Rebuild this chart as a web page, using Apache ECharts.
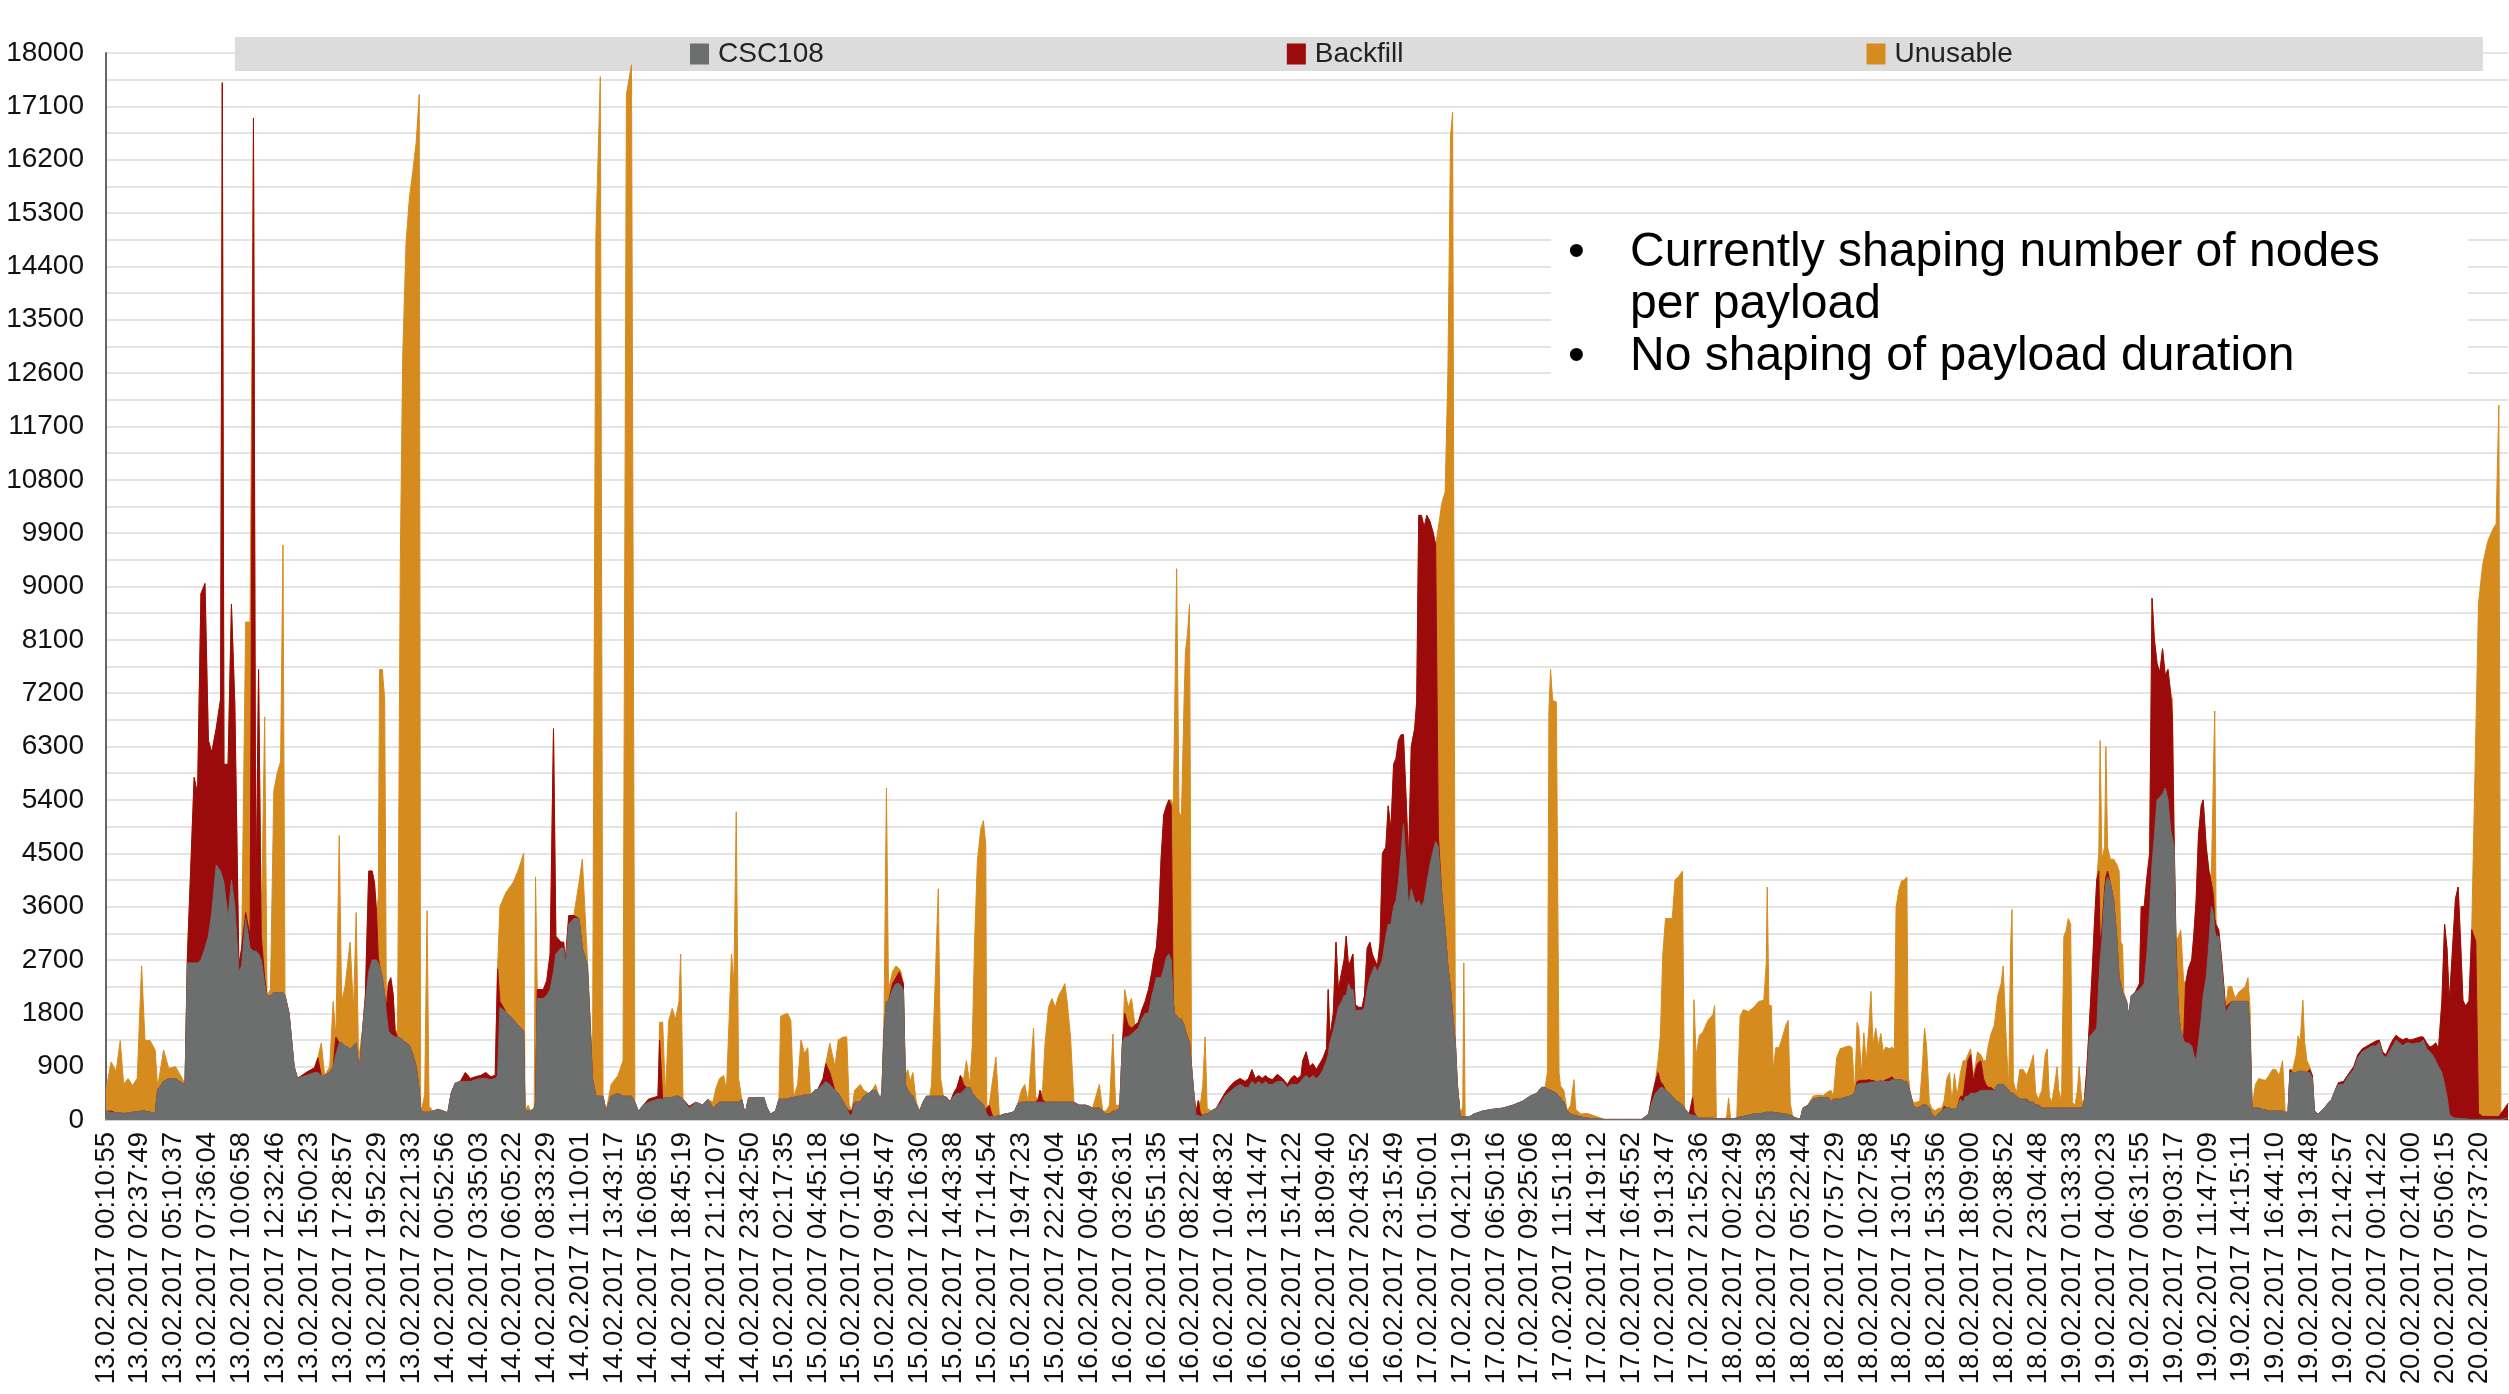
<!DOCTYPE html>
<html>
<head>
<meta charset="utf-8">
<script src="https://cdn.jsdelivr.net/npm/echarts@6/dist/echarts.min.js"></script>
<style>
html,body{margin:0;padding:0;background:#fff;}
#chart{width:2509px;height:1394px;}
</style>
</head>
<body>
<div id="chart"></div>
<script>
// X-axis tick labels (one per label slot)
const tickLabels = [
"13.02.2017 00:10:55","13.02.2017 02:37:49","13.02.2017 05:10:37","13.02.2017 07:36:04","13.02.2017 10:06:58",
"13.02.2017 12:32:46","13.02.2017 15:00:23","13.02.2017 17:28:57","13.02.2017 19:52:29","13.02.2017 22:21:33",
"14.02.2017 00:52:56","14.02.2017 03:35:03","14.02.2017 06:05:22","14.02.2017 08:33:29","14.02.2017 11:10:01",
"14.02.2017 13:43:17","14.02.2017 16:08:55","14.02.2017 18:45:19","14.02.2017 21:12:07","14.02.2017 23:42:50",
"15.02.2017 02:17:35","15.02.2017 04:45:18","15.02.2017 07:10:16","15.02.2017 09:45:47","15.02.2017 12:16:30",
"15.02.2017 14:43:38","15.02.2017 17:14:54","15.02.2017 19:47:23","15.02.2017 22:24:04","16.02.2017 00:49:55",
"16.02.2017 03:26:31","16.02.2017 05:51:35","16.02.2017 08:22:41","16.02.2017 10:48:32","16.02.2017 13:14:47",
"16.02.2017 15:41:22","16.02.2017 18:09:40","16.02.2017 20:43:52","16.02.2017 23:15:49","17.02.2017 01:50:01",
"17.02.2017 04:21:19","17.02.2017 06:50:16","17.02.2017 09:25:06","17.02.2017 11:51:18","17.02.2017 14:19:12",
"17.02.2017 16:45:52","17.02.2017 19:13:47","17.02.2017 21:52:36","18.02.2017 00:22:49","18.02.2017 02:53:38",
"18.02.2017 05:22:44","18.02.2017 07:57:29","18.02.2017 10:27:58","18.02.2017 13:01:45","18.02.2017 15:33:56",
"18.02.2017 18:09:00","18.02.2017 20:38:52","18.02.2017 23:04:48","19.02.2017 01:33:33","19.02.2017 04:00:23",
"19.02.2017 06:31:55","19.02.2017 09:03:17","19.02.2017 11:47:09","19.02.2017 14:15:11","19.02.2017 16:44:10",
"19.02.2017 19:13:48","19.02.2017 21:42:57","20.02.2017 00:14:22","20.02.2017 02:41:00","20.02.2017 05:06:15",
"20.02.2017 07:37:20"
];

// Sample positions, in units of label slots (0 = first label). 10 samples per row.
const xPos = [
0.00,0.15,0.30,0.42,0.52,0.65,0.78,0.92,1.05,1.15,
1.30,1.45,1.52,1.70,1.85,2.05,2.25,2.33,2.40,2.60,
2.70,2.80,2.92,3.02,3.12,3.25,3.38,3.43,3.48,3.60,
3.70,3.80,3.92,4.00,4.12,4.25,4.35,4.42,4.50,4.58,
4.68,4.75,4.85,4.95,5.05,5.15,5.22,5.28,5.40,5.55,
5.65,5.90,6.15,6.25,6.35,6.45,6.60,6.70,6.78,6.88,
6.95,7.05,7.20,7.30,7.38,7.45,7.50,7.58,7.65,7.75,
7.85,7.92,7.98,8.03,8.07,8.15,8.22,8.27,8.33,8.40,
8.47,8.53,8.60,8.68,8.75,8.85,8.95,9.05,9.15,9.24,
9.28,9.30,9.40,9.47,9.53,9.65,9.80,9.95,10.08,10.18,
10.30,10.45,10.60,10.75,10.90,11.05,11.20,11.35,11.48,11.55,
11.62,11.80,12.00,12.15,12.32,12.36,12.45,12.52,12.63,12.67,
12.72,12.90,13.00,13.10,13.20,13.27,13.42,13.50,13.55,13.65,
13.80,13.95,14.05,14.20,14.35,14.45,14.58,14.66,14.75,14.90,
15.10,15.25,15.35,15.50,15.60,15.70,15.85,16.00,16.28,16.33,
16.42,16.50,16.60,16.70,16.80,16.90,16.95,17.02,17.20,17.40,
17.60,17.75,17.90,18.00,18.10,18.22,18.30,18.38,18.45,18.52,
18.59,18.66,18.75,18.85,18.95,19.20,19.40,19.50,19.60,19.75,
19.85,19.90,20.10,20.20,20.28,20.40,20.50,20.60,20.70,20.78,
20.90,21.00,21.15,21.23,21.35,21.50,21.60,21.75,21.85,21.92,
22.00,22.08,22.25,22.35,22.50,22.60,22.70,22.80,22.88,22.95,
23.02,23.08,23.20,23.30,23.40,23.45,23.52,23.58,23.65,23.72,
23.80,23.90,24.00,24.10,24.20,24.30,24.35,24.45,24.55,24.62,
24.70,24.80,24.90,25.00,25.10,25.20,25.30,25.38,25.48,25.55,
25.62,25.70,25.80,25.88,25.95,25.98,26.05,26.15,26.25,26.35,
26.50,26.70,26.80,26.90,27.00,27.10,27.20,27.30,27.36,27.42,
27.50,27.55,27.62,27.70,27.80,27.90,28.00,28.10,28.20,28.28,
28.35,28.45,28.55,28.70,28.90,29.00,29.10,29.20,29.30,29.40,
29.50,29.60,29.70,29.78,29.90,29.98,30.05,30.15,30.25,30.35,
30.45,30.55,30.65,30.75,30.85,30.90,30.98,31.05,31.12,31.20,
31.28,31.35,31.42,31.48,31.52,31.58,31.65,31.72,31.80,31.84,
31.90,31.96,32.02,32.08,32.15,32.22,32.28,32.35,32.42,32.48,
32.60,32.75,32.90,33.00,33.10,33.20,33.30,33.45,33.60,33.70,
33.80,33.90,34.00,34.10,34.20,34.30,34.40,34.55,34.70,34.85,
34.95,35.05,35.15,35.25,35.30,35.40,35.50,35.60,35.70,35.80,
35.90,36.00,36.05,36.10,36.20,36.28,36.35,36.45,36.52,36.58,
36.65,36.72,36.78,36.85,36.95,37.05,37.12,37.20,37.28,37.35,
37.42,37.50,37.58,37.65,37.75,37.82,37.90,37.98,38.05,38.12,
38.20,38.27,38.35,38.42,38.50,38.60,38.66,38.72,38.80,38.88,
38.96,39.05,39.15,39.22,39.30,39.40,39.50,39.58,39.66,39.72,
39.80,39.86,39.95,40.02,40.05,40.09,40.20,40.35,40.60,40.90,
41.20,41.50,41.80,42.00,42.20,42.35,42.45,42.52,42.56,42.61,
42.67,42.78,42.86,42.90,43.00,43.10,43.20,43.30,43.35,43.50,
43.70,43.90,44.20,44.60,45.00,45.30,45.50,45.60,45.70,45.78,
45.85,45.92,46.00,46.12,46.20,46.28,46.38,46.50,46.56,46.62,
46.70,46.80,46.84,46.90,47.00,47.10,47.25,47.40,47.45,47.50,
47.70,47.80,47.86,47.92,48.10,48.20,48.30,48.45,48.60,48.75,
48.90,48.97,49.00,49.05,49.12,49.18,49.25,49.35,49.45,49.55,
49.62,49.68,49.75,49.85,49.98,50.05,50.20,50.35,50.50,50.65,
50.80,50.88,50.95,51.05,51.15,51.30,51.42,51.50,51.58,51.65,
51.70,51.78,51.85,51.92,52.00,52.06,52.12,52.20,52.28,52.35,
52.42,52.50,52.60,52.68,52.75,52.80,52.88,52.96,53.04,53.12,
53.16,53.22,53.30,53.40,53.50,53.58,53.64,53.70,53.78,53.85,
53.95,54.05,54.15,54.22,54.30,54.38,54.45,54.52,54.60,54.65,
54.70,54.78,54.85,54.92,55.00,55.08,55.15,55.20,55.30,55.38,
55.45,55.52,55.60,55.70,55.80,55.90,55.96,56.00,56.05,56.12,
56.18,56.22,56.26,56.35,56.45,56.55,56.65,56.75,56.85,56.92,
57.00,57.10,57.20,57.26,57.32,57.40,57.48,57.55,57.60,57.68,
57.75,57.82,57.88,57.95,58.00,58.08,58.15,58.20,58.28,58.35,
58.42,58.50,58.58,58.65,58.72,58.78,58.82,58.87,58.95,58.99,
59.04,59.12,59.22,59.32,59.38,59.43,59.48,59.52,59.60,59.66,
59.74,59.85,59.98,60.03,60.12,60.20,60.28,60.35,60.42,60.50,
60.58,60.66,60.74,60.82,60.90,60.95,61.00,61.06,61.13,61.20,
61.28,61.34,61.42,61.52,61.58,61.65,61.72,61.80,61.86,61.95,
62.03,62.10,62.16,62.20,62.24,62.32,62.42,62.52,62.60,62.70,
62.80,62.90,63.00,63.10,63.18,63.24,63.30,63.40,63.50,63.60,
63.70,63.80,63.90,64.00,64.10,64.20,64.28,64.36,64.42,64.50,
64.60,64.66,64.72,64.80,64.85,64.92,65.00,65.08,65.14,65.25,
65.35,65.50,65.65,65.75,65.85,66.00,66.15,66.30,66.42,66.55,
66.70,66.85,66.95,67.05,67.15,67.25,67.35,67.45,67.55,67.65,
67.75,67.85,67.95,68.05,68.15,68.25,68.35,68.45,68.55,68.62,
68.72,68.80,68.90,68.98,69.05,69.12,69.20,69.30,69.38,69.45,
69.52,69.60,69.70,69.78,69.90,69.98,70.10,70.25,70.40,70.50,
70.58,70.64,70.72,70.85
];

const csc108 = [
150,130,120,120,110,120,130,140,150,150,
130,120,500,650,700,700,620,600,2650,2650,
2650,2700,2900,3100,3500,4300,4200,4100,4000,3400,
4050,3600,2500,2600,3400,2900,2850,2850,2800,2700,
2300,2100,2100,2150,2150,2150,2150,2100,1800,900,
700,750,800,800,750,750,800,900,1100,1300,
1300,1250,1200,1250,1300,900,1000,1600,2000,2500,
2700,2700,2700,2650,2600,2400,2100,1800,1500,1450,
1420,1400,1400,1380,1350,1300,1260,1100,900,500,
200,150,130,130,130,150,180,150,120,450,
620,650,650,650,680,700,700,680,700,750,
1900,1820,1700,1600,1500,150,150,150,200,300,
2050,2050,2100,2200,2500,2800,2900,2900,2600,3300,
3400,3400,2900,2600,700,400,400,400,150,400,
450,400,400,400,300,150,250,300,350,350,
350,380,380,380,400,400,400,350,200,300,
250,350,200,250,300,300,300,300,300,300,
300,300,350,100,370,380,380,200,100,150,
350,350,350,380,380,400,400,420,420,430,
500,520,600,650,600,500,450,300,200,100,
80,300,300,400,450,500,500,400,400,1500,
2000,2000,2200,2300,2300,2300,2200,600,500,450,
400,250,150,300,400,400,400,400,400,400,
400,380,300,400,450,450,500,550,550,450,
400,350,300,250,150,100,50,60,60,70,
100,120,150,280,300,300,300,300,300,300,
300,300,300,300,300,300,300,300,300,300,
300,300,300,250,250,230,200,200,200,150,
100,100,150,150,200,1300,1400,1400,1450,1500,
1550,1700,1800,1800,2100,2200,2400,2400,2400,2550,
2750,2800,2700,2000,1800,1750,1700,1700,1600,1500,
1400,1300,900,500,80,80,60,80,100,100,
150,200,300,400,450,500,550,600,550,550,
650,600,650,600,650,600,600,650,650,550,
600,600,600,650,700,750,700,750,700,750,
850,1000,1100,1300,1500,1700,1900,2000,2100,2100,
2300,2200,2200,1850,1850,1850,1900,2200,2400,2500,
2600,2500,2600,2700,3100,3300,3300,3600,3700,4000,
4500,5000,4300,3600,3900,3700,3650,3700,3600,3700,
4000,4300,4550,4700,4600,3800,3200,2600,2200,1800,
1300,600,50,50,50,50,50,100,150,180,
200,250,320,400,450,550,550,520,500,500,
480,450,400,380,300,150,100,80,80,50,
30,20,10,10,10,10,100,300,450,500,
550,550,500,450,400,350,300,250,200,150,
100,80,80,80,30,30,30,30,30,20,
20,20,20,20,30,50,60,80,100,100,
120,130,130,130,130,130,120,120,100,100,
80,80,60,30,20,200,250,350,370,380,
380,300,350,350,350,380,400,420,450,600,
600,620,620,620,630,640,640,650,650,660,
650,650,650,680,680,680,680,680,650,650,
650,450,250,200,220,250,250,250,200,100,
50,100,150,200,200,200,180,180,200,200,
350,300,400,400,450,450,450,450,500,500,
500,500,500,500,600,600,600,580,550,500,
450,450,450,400,350,350,350,300,300,250,
250,200,200,200,200,200,200,200,200,200,
200,200,200,200,200,200,200,200,200,300,
600,1400,1450,1500,1550,2300,2700,3000,3800,4000,
4100,4000,3700,3000,2400,2300,2150,2150,2000,1750,
2100,2150,2200,2200,2300,2800,3500,4300,4800,5400,
5450,5500,5600,5400,4900,4900,4600,2800,1800,1500,
1350,1300,1300,1250,1100,1000,1300,1700,2100,2400,
3000,3600,3500,3200,3100,3100,2500,1800,1900,2000,
2000,2000,2000,2000,2000,1500,200,200,200,180,
170,150,150,150,150,150,130,130,800,800,
800,820,820,820,820,800,800,700,150,100,
150,250,350,500,600,600,750,850,1050,1150,
1200,1250,1250,1300,1100,1050,1150,1250,1350,1300,
1250,1300,1300,1280,1300,1300,1350,1200,1150,1100,
1000,900,800,600,400,100,50,30,30,20,
20,20,10,10,10,10,10,10,10,10,
10,10,20,30
];

const backfill = [
0,20,0,0,0,0,0,0,0,0,
0,0,0,0,0,0,0,0,100,3130,
2850,6180,6150,3300,2700,2300,2900,13400,2000,2600,
4650,3400,100,300,100,200,14050,600,4800,400,
100,0,0,0,0,0,0,0,0,0,
0,50,80,250,0,0,0,0,300,0,
0,0,0,0,0,0,0,0,100,1700,
1500,1300,800,100,0,0,0,100,800,950,
700,100,0,0,0,0,0,0,0,0,
0,0,0,0,0,0,0,0,0,0,
0,0,150,50,50,50,100,50,50,1800,
100,0,0,0,0,0,0,0,0,0,
150,150,250,600,4100,300,100,100,100,150,
50,0,0,0,0,0,0,0,0,0,
0,0,0,0,0,0,0,50,50,1000,
0,0,0,0,0,0,0,0,30,0,
0,0,0,0,0,0,0,0,0,0,
0,0,0,0,0,0,0,0,0,0,
0,0,0,0,0,0,0,0,0,0,
0,0,100,300,200,0,0,0,0,50,
80,0,0,0,0,0,0,0,0,0,
0,0,100,100,200,200,100,0,0,0,
0,0,0,0,0,0,0,0,0,0,
0,0,0,50,100,300,100,0,0,0,
0,0,0,0,0,100,200,0,0,0,
0,0,0,0,0,0,0,0,0,0,
50,200,50,0,0,0,0,0,0,0,
0,0,0,0,0,0,0,0,0,0,
0,0,0,0,0,0,400,200,100,100,
100,150,200,400,400,500,500,1000,2000,2600,
2550,2600,2600,0,0,0,0,0,0,0,
0,0,0,0,50,250,50,0,0,0,
0,0,50,50,80,100,100,100,100,150,
200,100,100,100,100,100,80,120,50,50,
100,150,100,100,300,400,200,200,150,200,
200,200,1100,100,300,1300,300,500,600,1000,
300,500,600,100,50,50,200,700,600,300,
100,100,400,1800,1500,2000,1600,2400,2400,2400,
2000,1500,1100,800,2400,2900,3400,6500,6600,6300,
6200,5800,5350,5000,200,0,0,0,0,0,
0,0,0,0,0,0,0,0,0,0,
0,0,0,0,0,0,0,0,0,0,
0,0,0,0,0,0,0,0,0,0,
0,0,0,0,0,0,0,100,200,300,
100,50,0,0,0,0,0,0,0,0,
0,300,50,0,0,0,0,0,0,0,
0,0,0,0,0,0,0,0,0,0,
0,0,0,0,0,0,0,0,0,0,
0,0,0,0,0,0,0,0,0,0,
0,0,0,0,0,0,0,0,0,50,
50,50,50,50,50,30,30,0,0,0,
0,30,50,50,0,0,0,0,0,0,
0,0,0,0,0,0,0,0,0,0,
0,0,0,30,0,0,0,0,0,0,
50,100,300,600,650,200,400,500,500,200,
100,50,50,0,0,0,0,0,0,0,
0,0,0,0,0,0,0,0,0,0,
0,0,0,0,0,0,0,0,0,0,
0,0,0,0,0,0,0,0,0,0,
200,200,1000,1800,2500,1900,300,200,100,100,
100,0,0,0,0,0,0,0,0,0,
0,0,100,1400,1300,1300,1000,4500,3300,2300,
2100,2450,1900,2200,2300,1900,200,100,0,0,
0,1000,1250,1450,2000,2700,3500,3600,3300,2200,
1200,400,300,200,200,100,100,100,50,0,
0,0,0,0,0,0,0,0,0,0,
0,0,0,0,0,0,0,0,50,0,
0,0,0,0,0,0,50,50,0,0,
0,0,0,0,30,50,30,50,50,50,
50,50,80,50,50,50,80,100,80,80,
100,80,50,80,80,100,50,100,80,150,
300,300,1200,2700,2500,1900,2700,3700,3900,3000,
2000,1900,2000,3200,3000,100,50,50,50,50,
50,100,150,250
];

const unusable = [
350,830,700,1220,490,580,450,560,2450,1190,
1210,1060,50,530,170,200,80,0,0,0,
0,0,0,0,0,0,0,0,0,0,
0,0,0,0,4900,5300,0,0,0,0,
4400,0,100,3400,3700,3900,7550,0,0,0,
0,0,0,0,550,0,100,1100,0,3500,
700,1000,1800,600,2200,100,0,0,0,0,
0,0,0,1000,5000,5200,5000,0,0,0,
0,0,100,8000,11500,13500,14300,14900,15600,16800,
100,0,300,3400,100,0,0,0,0,0,
0,0,0,0,0,0,0,0,0,0,
1600,2020,2300,2600,3000,0,100,0,0,3800,
0,0,0,0,0,0,0,0,0,0,
0,600,1500,100,200,14500,17200,0,0,200,
300,600,16900,17400,0,0,0,0,0,300,
1300,50,1300,1500,1300,1600,2400,0,0,0,
0,0,100,300,400,450,200,1400,2500,2000,
4900,400,0,0,0,0,0,0,0,0,
0,1400,1450,1300,0,200,950,700,800,0,
0,0,0,0,500,400,900,1100,1200,100,
0,200,300,100,0,0,100,0,0,300,
3600,200,200,200,50,0,0,150,350,200,
400,50,0,0,0,0,200,1800,3500,300,
0,0,0,0,0,0,100,450,50,800,
2600,4000,4600,4800,4500,0,0,600,1000,0,
0,0,0,0,200,300,0,800,1250,100,
0,0,100,1000,1600,1750,1600,1800,1900,2000,
1700,1100,0,0,0,0,0,200,400,0,
50,150,1300,100,50,0,400,300,500,0,
0,0,0,0,0,0,0,0,0,0,
0,0,100,3300,5000,7550,3500,3400,5500,6400,
6800,7400,0,0,0,0,150,500,1300,100,
0,0,0,0,0,0,0,0,0,0,
0,0,0,0,0,0,0,0,0,0,
0,0,0,0,0,0,0,0,0,0,
0,0,0,0,0,0,0,0,0,0,
0,0,0,0,0,0,0,0,0,0,
0,0,0,0,0,0,0,0,0,0,
0,0,0,0,0,0,0,0,0,0,
0,0,0,0,5200,6600,7400,10000,14400,15200,
100,0,0,200,2600,0,0,0,0,0,
0,0,0,0,0,0,0,300,6400,7100,
6600,6600,400,200,200,0,150,600,100,50,
80,50,0,0,0,0,0,0,0,200,
800,2200,2900,2950,3000,3700,3800,3950,0,0,
0,0,1900,1000,1400,1450,1650,1750,1900,0,
0,20,350,0,0,1700,1800,1750,1800,1900,
1900,2500,3800,1800,1800,700,1100,1100,1300,1500,
1600,200,0,0,0,0,0,50,50,30,
100,200,50,700,850,850,850,800,0,1000,
900,100,800,300,900,1500,600,900,600,800,
500,550,500,500,500,2900,3200,3350,3400,3450,
100,0,50,100,100,700,1300,1000,100,100,
100,100,50,100,500,600,100,600,200,400,
400,600,300,100,100,100,100,200,100,300,
400,700,900,1100,1500,1700,2000,2050,800,0,
2500,3100,200,50,500,500,400,600,800,200,
100,300,900,1000,200,100,400,700,300,100,
2900,3000,3200,3100,100,50,300,700,100,50,
0,0,0,0,0,300,3400,1200,700,2200,
400,400,700,1300,1800,700,800,0,0,0,
0,0,0,0,0,0,0,0,0,0,
0,0,0,0,0,300,100,100,1300,1700,
1000,0,0,0,0,0,0,0,0,0,
0,100,2000,3500,0,0,0,0,300,250,
50,150,200,250,400,400,0,400,500,500,
500,600,700,700,600,850,0,0,0,50,
300,600,500,1200,500,200,50,0,0,0,
0,0,0,0,0,0,0,0,0,0,
0,0,0,0,0,0,0,0,0,0,
0,0,0,0,0,0,0,0,0,0,
0,0,0,0,0,0,0,0,0,0,
0,0,0,0,3500,8600,9300,9700,9900,10000,
12000,0,0,0
];

const yTicks = { min: 0, max: 18000, interval: 900 };
const seriesNames = ['CSC108', 'Backfill', 'Unusable'];
const seriesColors = ['#6d6f6e', '#9c0b0b', '#d68b1f'];
const seriesValues = [csc108, backfill, unusable];

// Stack the layers (CSC108 at the bottom, then Backfill, then Unusable).
// Each layer is drawn from zero up to its cumulative top; lower layers are drawn over higher ones.
const n = Math.min(xPos.length, csc108.length, backfill.length, unusable.length);
const cumulative = [[], [], []];
for (let i = 0; i < n; i++) {
  let acc = 0;
  for (let k = 0; k < 3; k++) {
    acc += seriesValues[k][i];
    cumulative[k].push([xPos[i], acc]);
  }
}

const chart = echarts.init(document.getElementById('chart'), null, { renderer: 'canvas' });
const FONT = '"Liberation Sans", Arial, Helvetica, sans-serif';

const option = {
  animation: false,
  backgroundColor: '#ffffff',
  textStyle: { fontFamily: FONT },
  grid: { left: 106, right: 1, top: 53, bottom: 274, containLabel: false, outerBoundsMode: 'none' },
  legend: {
    data: seriesNames,
    left: 235, top: 37,
    padding: [3, 470, 3, 455],
    itemGap: 463,
    itemWidth: 19, itemHeight: 21,
    icon: 'rect',
    backgroundColor: '#dcdcdc',
    textStyle: { fontSize: 28, color: '#222', fontFamily: FONT, padding: [0, 0, 0, 4] }
  },
  xAxis: {
    type: 'value',
    min: 0, max: 70.85, interval: 1,
    axisLine: { show: true, lineStyle: { color: '#cfcfcf', width: 2 } },
    axisTick: { show: false },
    splitLine: { show: false },
    axisLabel: {
      rotate: 90, margin: 12, fontSize: 27.5, color: '#111', fontFamily: FONT,
      showMaxLabel: false,
      formatter: function (v) {
        const r = Math.round(v);
        return Math.abs(v - r) < 1e-6 && tickLabels[r] ? tickLabels[r] : '';
      }
    }
  },
  yAxis: {
    type: 'value',
    min: yTicks.min, max: yTicks.max, interval: yTicks.interval,
    axisLine: { show: true, lineStyle: { color: '#666', width: 2 } },
    axisTick: { show: false },
    axisLabel: { fontSize: 28, color: '#111', margin: 22, fontFamily: FONT, formatter: function (v) { return String(v); } },
    splitLine: { show: true, lineStyle: { color: '#e4e4e4', width: 2 } },
    minorTick: { show: false, splitNumber: 2 },
    minorSplitLine: { show: true, lineStyle: { color: '#e4e4e4', width: 2 } }
  },
  series: seriesNames.map(function (name, k) {
    return {
      name: name,
      type: 'line',
      z: 10 - k,
      symbol: 'none',
      showSymbol: false,
      smooth: false,
      sampling: null,
      itemStyle: { color: seriesColors[k] },
      lineStyle: { width: 1, color: seriesColors[k] },
      areaStyle: { color: seriesColors[k], opacity: 1 },
      data: cumulative[k]
    };
  }),
  graphic: [
    { type: 'rect', x: 1551, y: 226, z: 100, shape: { width: 917, height: 160 }, style: { fill: '#ffffff' } },
    { type: 'text', x: 1568, y: 253, z: 101, style: { text: '\u2022', fontSize: 48, fontFamily: FONT, fill: '#000', verticalAlign: 'middle' } },
    { type: 'text', x: 1630, y: 253, z: 101, style: { text: 'Currently shaping number of nodes', fontSize: 48, fontFamily: FONT, fill: '#000', verticalAlign: 'middle' } },
    { type: 'text', x: 1630, y: 305, z: 101, style: { text: 'per payload', fontSize: 48, fontFamily: FONT, fill: '#000', verticalAlign: 'middle' } },
    { type: 'text', x: 1568, y: 357, z: 101, style: { text: '\u2022', fontSize: 48, fontFamily: FONT, fill: '#000', verticalAlign: 'middle' } },
    { type: 'text', x: 1630, y: 357, z: 101, style: { text: 'No shaping of payload duration', fontSize: 48, fontFamily: FONT, fill: '#000', verticalAlign: 'middle' } }
  ]
};
chart.setOption(option);
</script>
</body>
</html>
